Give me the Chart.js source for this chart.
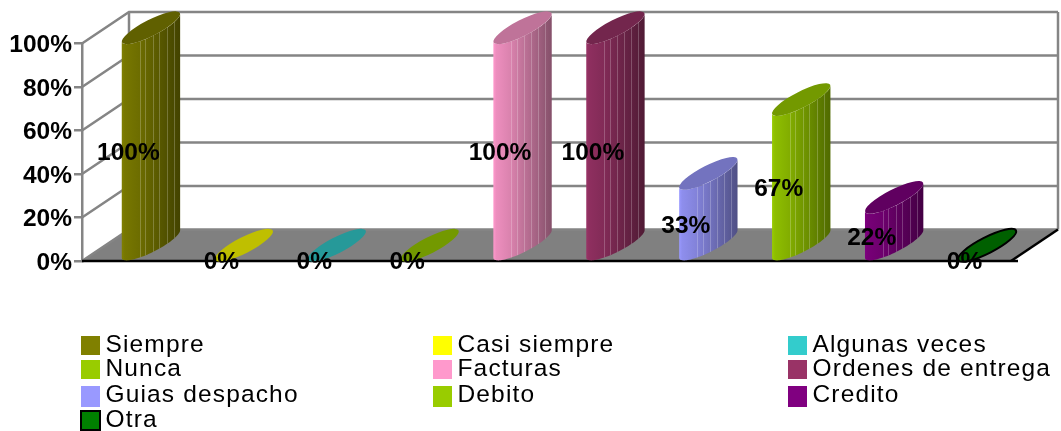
<!DOCTYPE html>
<html><head><meta charset="utf-8">
<style>html,body{margin:0;padding:0;background:#fff}canvas{display:block}</style>
<script src="https://cdn.jsdelivr.net/npm/chart.js@4/dist/chart.umd.min.js"></script>
</head><body><canvas id="c" width="1061" height="431"></canvas>
<script>
const categories = ['Siempre','Casi siempre','Algunas veces','Nunca','Facturas','Ordenes de entrega','Guias despacho','Debito','Credito','Otra'];
const values = [100,0,0,0,100,100,33,67,22,0];
const barColors = ['#808000','#FFFF00','#33CCCC','#99CC00','#FF99CC','#993366','#9999FF','#99CC00','#800080','#008000'];
const edgeColors = ['','','','','','','','','','#000000'];
const valueTicks = [0,20,40,60,80,100];

const DX = 47, DY = 31.5, GRAY = '#858585', FONT = '"Liberation Sans", Arial, sans-serif';
const A = 32.5, B = 8, TH = 27 * Math.PI / 180;
const STRIPES = [.31,.40,.53,.64,.77,.89];

function shade(hex, f){
  const n = parseInt(hex.slice(1),16);
  return `rgb(${Math.round((n>>16&255)*f)},${Math.round((n>>8&255)*f)},${Math.round((n&255)*f)})`;
}
function ell(cx, cy, t){
  return [cx + A*Math.cos(t)*Math.cos(TH) + B*Math.sin(t)*Math.sin(TH),
          cy - A*Math.cos(t)*Math.sin(TH) + B*Math.sin(t)*Math.cos(TH)];
}
function frontCurve(cx, cy){
  const t0 = Math.atan2(B*Math.sin(TH), A*Math.cos(TH));
  const pts = [];
  for(let i=0;i<=48;i++){ pts.push(ell(cx, cy, Math.PI + t0 - (Math.PI)*i/48)); }
  return pts;
}
function yAt(pts, x){
  for(let i=1;i<pts.length;i++){
    if(x<=pts[i][0]){
      const p=pts[i-1], q=pts[i], k=(x-p[0])/((q[0]-p[0])||1);
      return p[1]+(q[1]-p[1])*k;
    }
  }
  return pts[pts.length-1][1];
}
// Cylinder look for the library's own bar element
Chart.BarElement.prototype.draw = function(ctx){
  const {x, y, base} = this.getProps(['x','y','base'], true);
  const col = this.options.backgroundColor;
  const edge = this.options.borderColor;
  const cx = x + DX/2 - 1;
  const low = frontCurve(cx, base - DY/2);
  const up  = frontCurve(cx, y - DY/2);
  const x0 = low[0][0], x1 = low[low.length-1][0];
  ctx.save();
  if(base - y > 0.5){
    const g = ctx.createLinearGradient(x0,0,x1,0);
    g.addColorStop(0, col);
    g.addColorStop(.05, shade(col,.93));
    g.addColorStop(.3, shade(col,.85));
    g.addColorStop(1, shade(col,.52));
    ctx.beginPath();
    low.forEach((p,i)=> i?ctx.lineTo(p[0],p[1]):ctx.moveTo(p[0],p[1]));
    for(let i=up.length-1;i>=0;i--) ctx.lineTo(up[i][0],up[i][1]);
    ctx.closePath();
    ctx.fillStyle = g; ctx.fill();
    ctx.strokeStyle = 'rgba(255,255,255,.22)'; ctx.lineWidth = 1;
    STRIPES.forEach(f=>{
      const sx = Math.round(x0 + (x1-x0)*f) + .5;
      ctx.beginPath(); ctx.moveTo(sx, yAt(low,sx)); ctx.lineTo(sx, yAt(up,sx)-1); ctx.stroke();
    });
  }
  ctx.beginPath();
  ctx.ellipse(cx, y - DY/2, A, B, -TH, 0, Math.PI*2);
  ctx.fillStyle = shade(col,.75); ctx.fill();
  if(edge && edge !== 'rgba(0,0,0,0)' && edge !== ''){
    ctx.strokeStyle = edge; ctx.lineWidth = 2; ctx.stroke();
  }
  ctx.restore();
};

const wallPlugin = {
  id:'wall3d',
  beforeDraw(chart){
    const items = chart.scales.y.getLabelItems();
    if(!items._moved){ items.forEach(i=>{ i.options.translation[1] += 2; }); items._moved = true; }
  },
  beforeDatasetsDraw(chart){
    const {ctx, chartArea:a, scales:{y}} = chart;
    const y0 = y.getPixelForValue(0), yT = y.getPixelForValue(100);
    ctx.save();
    ctx.fillStyle = '#808080';
    ctx.beginPath();
    ctx.moveTo(a.left,y0); ctx.lineTo(a.right,y0); ctx.lineTo(a.right+DX,y0-DY); ctx.lineTo(a.left+DX,y0-DY); ctx.closePath();
    ctx.fill();
    ctx.strokeStyle = GRAY; ctx.lineWidth = 2.5;
    valueTicks.forEach(v=>{
      const py = y.getPixelForValue(v);
      ctx.beginPath();
      ctx.moveTo(a.left,py); ctx.lineTo(a.left+DX,py-DY); ctx.lineTo(a.right+DX,py-DY);
      ctx.stroke();
    });
    ctx.beginPath(); ctx.moveTo(a.left+DX,y0-DY); ctx.lineTo(a.left+DX,yT-DY); ctx.stroke();
    ctx.beginPath(); ctx.moveTo(a.right+DX,y0-DY); ctx.lineTo(a.right+DX,yT-DY); ctx.stroke();
    ctx.strokeStyle = '#000'; ctx.lineWidth = 2.5;
    ctx.beginPath(); ctx.moveTo(a.left,y0); ctx.lineTo(a.right+7,y0); ctx.stroke();
    ctx.beginPath(); ctx.moveTo(a.right,y0); ctx.lineTo(a.right+DX,y0-DY); ctx.stroke();
    ctx.restore();
  }
};
const labelPlugin = {
  id:'valueLabels',
  afterDatasetsDraw(chart){
    const {ctx, scales:{y}} = chart, meta = chart.getDatasetMeta(0);
    ctx.save();
    ctx.font = `bold 24.5px ${FONT}`; ctx.fillStyle = '#000';
    ctx.textAlign = 'center'; ctx.textBaseline = 'middle';
    meta.data.forEach((el,i)=>{
      ctx.fillText(values[i]+'%', el.x, (y.getPixelForValue(0)+y.getPixelForValue(values[i]))/2 + 1);
    });
    ctx.restore();
  }
};
const legendPlugin = {
  id:'gridLegend',
  afterDraw(chart){
    const ctx = chart.ctx, cols = [81,433,788], rows = [336,360,386,411];
    ctx.save();
    ctx.font = `24.5px ${FONT}`; ctx.textBaseline = 'alphabetic'; ctx.textAlign = 'left';
    ctx.letterSpacing = '1.15px';
    categories.forEach((name,i)=>{
      const c = cols[i%3], r = rows[Math.floor(i/3)];
      ctx.fillStyle = barColors[i];
      ctx.fillRect(c,r,19,i>=6&&i<9?21:19);
      if(edgeColors[i]){ ctx.strokeStyle = edgeColors[i]; ctx.lineWidth = 2; ctx.strokeRect(c,r,19,19); }
      ctx.fillStyle = '#000';
      ctx.fillText(name, c+24.5, r+16);
    });
    ctx.restore();
  }
};

new Chart(document.getElementById('c'),{
  type:'bar',
  data:{labels:categories,datasets:[{data:values,clip:false,backgroundColor:barColors,
    borderColor:edgeColors.map(c=>c||'rgba(0,0,0,0)'),borderWidth:0,barPercentage:.6,categoryPercentage:1}]},
  plugins:[wallPlugin,labelPlugin,legendPlugin],
  options:{
    responsive:false,animation:false,
    layout:{padding:{left:0,top:43.5,right:50,bottom:170}},
    plugins:{legend:{display:false},tooltip:{enabled:false}},
    scales:{
      x:{display:false},
      y:{min:0,max:100,
        afterFit(s){s.width=82;},
        afterBuildTicks(s){s.ticks=valueTicks.map(v=>({value:v}));},
        border:{color:GRAY,width:2.5},
        grid:{drawOnChartArea:false,drawTicks:true,tickLength:8,color:GRAY,lineWidth:2.5},
        ticks:{padding:2,color:'#000',font:{family:FONT,size:24.5,weight:'bold'},callback:v=>v+'%'}
      }
    }
  }
});
</script></body></html>
